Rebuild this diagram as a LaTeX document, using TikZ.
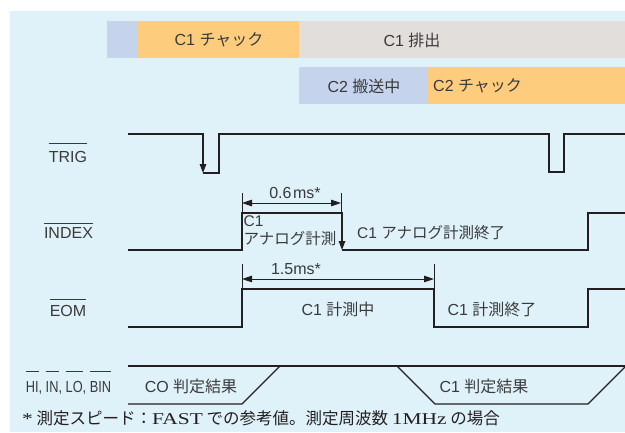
\documentclass[tikz,border=0pt]{standalone}
\usepackage{fontspec}
\setmainfont{Noto Sans CJK JP}
\newfontfamily\lat{Liberation Sans}
\newfontfamily\ser[FakeStretch=1.3]{Liberation Serif}
\usetikzlibrary{arrows.meta}
\definecolor{bg}{HTML}{DFF2FA}
\definecolor{barblue}{HTML}{C5D3EC}
\definecolor{barorange}{HTML}{FDCC7D}
\definecolor{bargrey}{HTML}{E2DEDB}
\definecolor{txt}{HTML}{3A3A3A}
\definecolor{lc}{HTML}{231F20}
\newcommand\ovl[2]{\leavevmode\vbox{\hrule height 0.7pt \kern #1\hbox{#2}}}
\tikzset{
  sig/.style={line width=1.4pt, draw=lc, line join=miter},
  arr/.style={-{Triangle[length=9pt,width=6.5pt]}},
  dimline/.style={line width=0.8pt, draw=lc, {Triangle[length=10pt,width=6.5pt]}-{Triangle[length=10pt,width=6.5pt]}},
  tick/.style={line width=0.8pt, draw=lc},
  jtext/.style={text=txt, inner sep=0pt, font=\fontsize{16}{18}\selectfont},
  lab/.style={text=txt, inner sep=0pt, anchor=base, font=\lat\fontsize{16}{19}\selectfont},
}
\begin{document}
\begin{tikzpicture}[x=1pt,y=-1pt]
\useasboundingbox (0,0) rectangle (625,432);
\fill[bg] (10,11) rectangle (625,432);
% bars
\fill[barblue] (107,21) rectangle (138,58);
\fill[barorange] (138,21) rectangle (299,58);
\fill[bargrey] (299,21) rectangle (625,58);
\fill[barblue] (299,67) rectangle (427,104);
\fill[barorange] (427,67) rectangle (625,104);
\node[jtext] (c1chuck) at (219,40) {\lat C1 \rmfamily チャック};
\node[jtext] (c1out) at (412,40) {\lat C1 \rmfamily 排出};
\node[jtext] (c2move) at (364,86) {\lat C2 \rmfamily 搬送中};
\node[jtext, anchor=west] (c2chuck) at (433,86) {\lat C2 \rmfamily チャック};
% labels
\node[lab] (trig) at (68,162) {\ovl{7pt}{TRIG}};
\node[lab] (index) at (68.5,238) {\ovl{3pt}{INDEX}};
\node[lab] (eom) at (68,316) {\ovl{5pt}{EOM}};
\node[lab] (hilo) at (68.5,392) {\scalebox{0.8}[1]{\ovl{9pt}{HI}, \ovl{9pt}{IN}, \ovl{9pt}{LO}, \ovl{9pt}{BIN}}};
\begin{scope}
\clip (0,0) rectangle (625,432);
% TRIG
\draw[sig, arr] (128,134) -- (203,134) -- (203,173);
\draw[sig] (203,173) -- (219,173) -- (219,134) -- (549,134) -- (549,172) -- (564,172) -- (564,134) -- (627,134);
% INDEX
\draw[sig, arr] (128,250) -- (242,250) -- (242,213) -- (342,213) -- (342,250);
\draw[sig] (342,250) -- (588,250) -- (588,213) -- (627,213);
% EOM
\draw[sig] (128,327) -- (242,327) -- (242,289) -- (434,289) -- (434,327) -- (588,327) -- (588,289) -- (627,289);
% bus
\draw[sig] (128,366) -- (627,366);
\draw[sig] (128,404) -- (242,404) -- (280,366);
\draw[sig] (397,366) -- (435,404) -- (588,404) -- (627,365);
\end{scope}
% dimensions
\coordinate (d1a) at (242,203);
\coordinate (d1b) at (341,203);
\draw[tick] (242,193) -- (242,212);
\draw[tick] (341,193) -- (341,212);
\draw[dimline] (d1a) -- (d1b);
\node[lab] (t06) at (295,198) {0.6\kern1.5pt ms*};
\coordinate (d2a) at (242,279);
\coordinate (d2b) at (434,279);
\draw[tick] (242,264) -- (242,288);
\draw[tick] (434,264) -- (434,288);
\draw[dimline] (d2a) -- (d2b);
\node[lab] (t15) at (296,274) {1.5ms*};
% signal texts
\node[jtext, anchor=north west, align=left, font=\fontsize{15.5}{18}\selectfont] (c1ana) at (243.5,215) {\lat C1\\\rmfamily アナログ計測};
\node[jtext, anchor=west, font=\fontsize{15.5}{18}\selectfont] (c1anaend) at (357,233) {\lat C1 \rmfamily アナログ計測終了};
\node[jtext] (c1meas) at (338,309) {\lat C1 \rmfamily 計測中};
\node[jtext] (c1measend) at (492,309) {\lat C1 \rmfamily 計測終了};
\node[jtext] (c0res) at (191,386) {\lat CO \rmfamily 判定結果};
\node[jtext] (c1res) at (484,386) {\lat C1 \rmfamily 判定結果};
% footnote
\node[anchor=base west, inner sep=0pt, text=lc, font=\fontsize{16.5}{19}\selectfont] (foot) at (22,424)
  {{\ser *} 測定スピード：{\ser FAST} での参考値。測定周波数 {\ser 1MHz} の場合};
\end{tikzpicture}
\end{document}
